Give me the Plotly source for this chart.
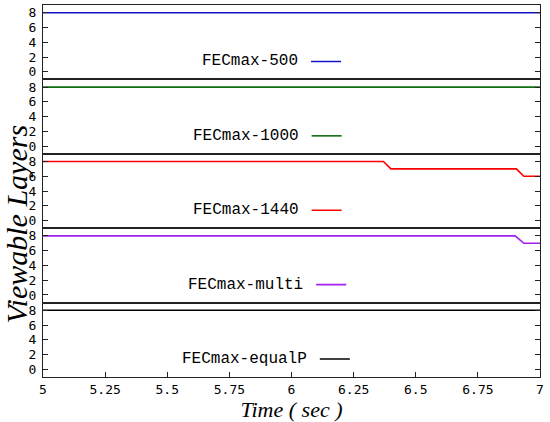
import plotly.graph_objects as go
from plotly.subplots import make_subplots

# datos (puntos de quiebre)
labels = ['FECmax-500', 'FECmax-1000', 'FECmax-1440', 'FECmax-multi', 'FECmax-equalP']
colors = ['#1414c8', '#107010', '#ff0000', '#a020f0', '#000000']

t_500 = [5, 7]
l_500 = [8, 8]
t_1000 = [5, 7]
l_1000 = [8, 8]
t_1440 = [5, 6.37, 6.40, 6.905, 6.935, 7]
l_1440 = [8, 8, 7, 7, 6, 6]
t_multi = [5, 6.90, 6.935, 7]
l_multi = [8, 8, 7, 7]
t_equal = [5, 7]
l_equal = [8, 8]

x_ticks = [5, 5.25, 5.5, 5.75, 6, 6.25, 6.5, 6.75, 7]
x_ticktext = ['5', '5.25', '5.5', '5.75', '6', '6.25', '6.5', '6.75', '7']
y_ticks = [0, 2, 4, 6, 8]

series = [(t_500, l_500), (t_1000, l_1000), (t_1440, l_1440), (t_multi, l_multi), (t_equal, l_equal)]

# donde arranca el texto de cada leyenda (px)
key_left = [200, 191, 191, 186, 180]

mono = 'Liberation Mono, Courier New, monospace'
serif = 'Liberation Serif, Times New Roman, serif'
tickmono = 'DejaVu Sans Mono, monospace'

fig = make_subplots(rows=5, cols=1, shared_xaxes=True, vertical_spacing=0)

for i, (t, l) in enumerate(series):
    leg = 'legend' if i == 0 else 'legend%d' % (i + 1)
    fig.add_trace(go.Scatter(x=t, y=l, mode='lines', name='',
                             line=dict(color=colors[i], width=1.6),
                             showlegend=True, legend=leg), row=i + 1, col=1)
    bottom = (4 - i) * 0.2
    fig.update_layout({leg: dict(
        title=dict(text=labels[i], side='left', font=dict(family=mono, size=16, color='#000')),
        x=(key_left[i] - 43) / 497, xanchor='left',
        y=bottom + 0.048, yanchor='middle',
        bgcolor='rgba(0,0,0,0)', borderwidth=0,
        itemwidth=30, font=dict(family=mono, size=16))})

fig.update_xaxes(range=[5, 7], showgrid=False, zeroline=False, showline=True,
                 linecolor='#222', linewidth=1, mirror=True,
                 tickvals=x_ticks, ticktext=x_ticktext,
                 ticks='', showticklabels=False)
fig.update_xaxes(row=5, col=1, ticks='inside', ticklen=5, tickcolor='#222',
                 showticklabels=True, automargin=False,
                 tickfont=dict(family=tickmono, size=13, color='#000'),
                 title=dict(text='<i>Time ( sec )</i>', standoff=1,
                            font=dict(family=serif, size=22, color='#000')))
fig.update_yaxes(range=[-1.03, 9.04], showgrid=False, zeroline=False, showline=True,
                 linecolor='#222', linewidth=1, mirror='ticks',
                 tickvals=y_ticks, ticks='inside', ticklen=5, tickcolor='#222',
                 ticklabelstandoff=3, automargin=False,
                 tickfont=dict(family=tickmono, size=13, color='#000'))

fig.add_annotation(text='<i>Viewable Layers</i>', xref='paper', yref='paper',
                   x=(16 - 43) / 497, y=0.41, xanchor='center', yanchor='middle',
                   textangle=-90, showarrow=False,
                   font=dict(family=serif, size=30, color='#000'))

fig.update_layout(width=550, height=422, margin=dict(l=43, r=10, t=5, b=45),
                  plot_bgcolor='white', paper_bgcolor='white')

fig.write_html('out.html', config={'displayModeBar': False},
               post_script="document.body.style.margin='0px';")
